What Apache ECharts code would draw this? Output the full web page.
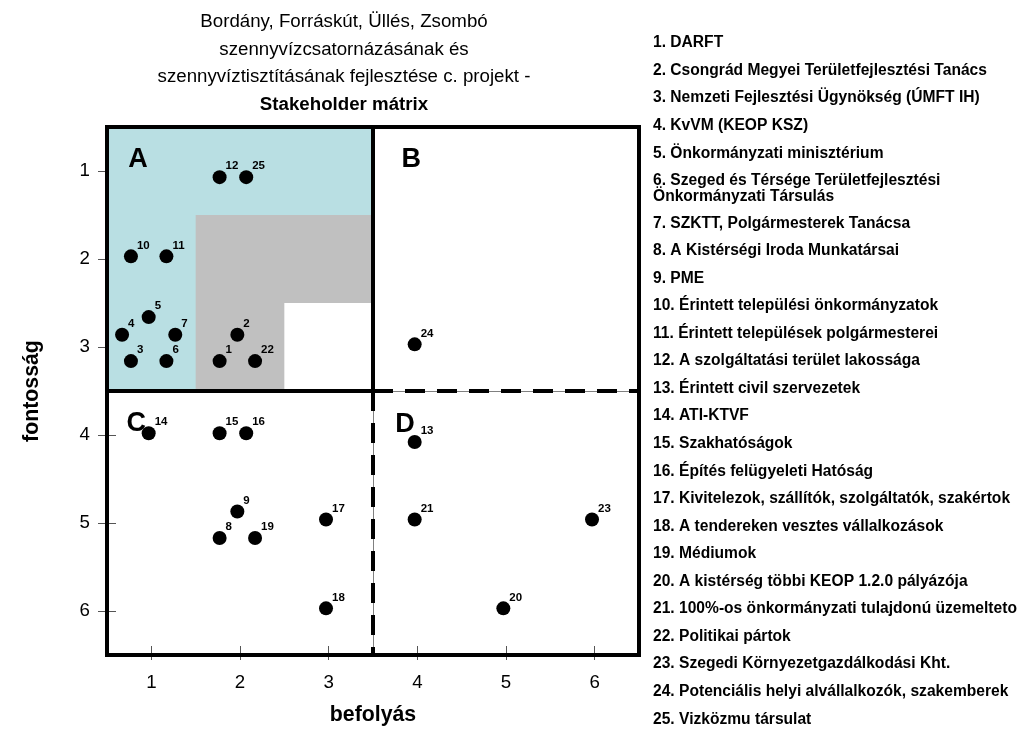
<!DOCTYPE html>
<html><head><meta charset="utf-8">
<script src="https://cdn.jsdelivr.net/npm/echarts@6/dist/echarts.min.js"></script>
<style>html,body{margin:0;padding:0;background:#fff}#c{width:1024px;height:735px}</style>
</head><body><div id="c"></div>
<script>
// ---- data ----
const stakeholderIds = ['1','2','3','4','5','6','7','8','9','10','11','12','13','14','15','16','17','18','19','20','21','22','23','24','25'];
const befolyas  = [1.77, 1.97, 0.77, 0.67, 0.97, 1.17, 1.27, 1.77, 1.97, 0.77, 1.17, 1.77, 3.97, 0.97, 1.77, 2.07, 2.97, 2.97, 2.17, 4.97, 3.97, 2.17, 5.97, 3.97, 2.07];
const fontossag = [3.16, 2.86, 3.16, 2.86, 2.66, 3.16, 2.86, 5.17, 4.87, 1.97, 1.97, 1.07, 4.08, 3.98, 3.98, 3.98, 4.96, 5.97, 5.17, 5.97, 4.96, 3.16, 4.96, 2.97, 1.07];
const stakeholderNames = [
  '1. DARFT',
  '2. Csongrád Megyei Területfejlesztési Tanács',
  '3. Nemzeti Fejlesztési Ügynökség (ÚMFT IH)',
  '4. KvVM (KEOP KSZ)',
  '5. Önkormányzati minisztérium',
  '6. Szeged és Térsége Területfejlesztési\nÖnkormányzati Társulás',
  '7. SZKTT, Polgármesterek Tanácsa',
  '8. A Kistérségi Iroda Munkatársai',
  '9. PME',
  '10. Érintett települési önkormányzatok',
  '11. Érintett települések polgármesterei',
  '12. A szolgáltatási terület lakossága',
  '13. Érintett civil szervezetek',
  '14. ATI-KTVF',
  '15. Szakhatóságok',
  '16. Építés felügyeleti Hatóság',
  '17. Kivitelezok, szállítók, szolgáltatók, szakértok',
  '18. A tendereken vesztes vállalkozások',
  '19. Médiumok',
  '20. A kistérség többi KEOP 1.2.0 pályázója',
  '21. 100%-os önkormányzati tulajdonú üzemelteto',
  '22. Politikai pártok',
  '23. Szegedi Környezetgazdálkodási Kht.',
  '24. Potenciális helyi alvállalkozók, szakemberek',
  '25. Vizközmu társulat'
];
const titleLines = ['Bordány, Forráskút, Üllés, Zsombó', 'szennyvízcsatornázásának és', 'szennyvíztisztításának fejlesztése c. projekt -'];
const titleBold = 'Stakeholder mátrix';
const quadrantLetters = ['A', 'B', 'C', 'D'];
const quadrantLetterX = [0.85, 3.93, 0.83, 3.86];
const quadrantLetterY = [0.87, 0.87, 3.87, 3.88];
const tickValues = [1, 2, 3, 4, 5, 6];
const axisMin = 0.5, axisMax = 6.5, split = 3.5;
const xName = 'befolyás', yName = 'fontosság';

// ---- chart ----
const FF = '"Liberation Sans", Arial, sans-serif';
const chart = echarts.init(document.getElementById('c'), null, {renderer: 'canvas'});

const points = stakeholderIds.map((id, i) => ({value: [befolyas[i], fontossag[i]], name: id}));
const letters = quadrantLetters.map((l, i) => ({value: [quadrantLetterX[i], quadrantLetterY[i]], name: l}));

const solid = {color: '#000', width: 4, type: 'solid', cap: 'square'};
function seg(a, b, style) { return [{coord: a, lineStyle: style}, {coord: b}]; }

const frameLines = [
  seg([axisMin, axisMin], [axisMax, axisMin], solid),
  seg([axisMax, axisMin], [axisMax, axisMax], solid),
  seg([axisMax, axisMax], [axisMin, axisMax], solid),
  seg([axisMin, axisMax], [axisMin, axisMin], solid),
  seg([split, axisMin], [split, split], solid),
  seg([axisMin, split], [split, split], solid),
  seg([split, split], [split, axisMax], {color: '#808080', width: 1, type: 'solid'}),
  seg([split, split], [axisMax, split], {color: '#808080', width: 1, type: 'solid'}),
  seg([split, split], [split, axisMax], {color: '#000', width: 4, type: [20, 12]}),
  seg([split, split], [axisMax, split], {color: '#000', width: 4, type: [20, 12]})
];

const titleRich = titleLines.map(t => '{n|' + t + '}').join('\n') + '\n{b|' + titleBold + '}';

// legend list text
let y = 43;
const listEls = [];
stakeholderNames.forEach((n) => {
  listEls.push({type: 'text', left: 653, top: y - 8, silent: true, style: {text: n, font: 'bold 15.6px ' + FF, fill: '#000', lineHeight: 16}});
  y += 27.55 + (n.indexOf('\n') >= 0 ? 15 : 0);
});

function xAxisDef(withLabels, inside, len) {
  return {
    type: 'value', min: axisMin, max: axisMax, position: 'bottom', offset: 0,
    name: withLabels ? xName : '', nameLocation: 'middle', nameGap: 50,
    nameTextStyle: {fontFamily: FF, fontWeight: 'bold', fontSize: 21.3, color: '#000'},
    axisLine: {show: false},
    splitLine: {show: false},
    axisTick: {show: true, inside: inside, length: len, customValues: tickValues, lineStyle: {color: '#555', width: 1}},
    axisLabel: {show: withLabels, customValues: tickValues, margin: 18, fontFamily: FF, fontSize: 18.7, color: '#000'}
  };
}
function yAxisDef(withLabels, inside, len) {
  return {
    type: 'value', min: axisMin, max: axisMax, inverse: true, position: 'left', offset: 0,
    name: withLabels ? yName : '', nameLocation: 'middle', nameGap: 64,
    nameTextStyle: {fontFamily: FF, fontWeight: 'bold', fontSize: 21.3, color: '#000'},
    axisLine: {show: false},
    splitLine: {show: false},
    axisTick: {show: true, inside: inside, length: len, customValues: tickValues, lineStyle: {color: '#555', width: 1}},
    axisLabel: {show: withLabels, customValues: tickValues, margin: 17, fontFamily: FF, fontSize: 18.7, color: '#000'}
  };
}

chart.setOption({
  animation: false,
  backgroundColor: '#fff',
  title: {
    text: titleRich, left: 339, top: 3, textAlign: 'center',
    textStyle: {
      fontWeight: 'normal',
      rich: {
        n: {fontFamily: FF, fontSize: 18.7, fontWeight: 'normal', color: '#000', lineHeight: 27.7, align: 'center'},
        b: {fontFamily: FF, fontSize: 18.7, fontWeight: 'bold', color: '#000', lineHeight: 27.7, align: 'center'}
      }
    }
  },
  grid: {left: 107, right: 385, top: 127, bottom: 80, show: false},
  xAxis: [xAxisDef(true, true, 9), xAxisDef(false, false, 5)],
  yAxis: [yAxisDef(true, true, 9), yAxisDef(false, false, 9)],
  graphic: listEls,
  series: [
    {
      type: 'scatter', data: [], clip: false, silent: true,
      markArea: {
        silent: true,
        label: {show: false},
        data: [
          [{coord: [axisMin, axisMin], itemStyle: {color: '#B9DFE3', opacity: 1}}, {coord: [split, split]}],
          [{coord: [1.5, 1.5], itemStyle: {color: '#C0C0C0', opacity: 1}}, {coord: [split, split]}],
          [{coord: [2.5, 2.5], itemStyle: {color: '#FFFFFF', opacity: 1}}, {coord: [split, split]}]
        ]
      },
      markLine: {silent: true, symbol: ['none', 'none'], label: {show: false}, animation: false, data: frameLines}
    },
    {
      type: 'scatter', data: letters, symbolSize: 1, itemStyle: {color: '#fff', opacity: 0}, silent: true, z: 3,
      label: {show: true, position: 'inside', formatter: p => p.name, fontFamily: FF, fontWeight: 'bold', fontSize: 27, color: '#000', opacity: 1},
      emphasis: {disabled: true}
    },
    {
      type: 'scatter', data: points, symbol: 'circle', symbolSize: 14, itemStyle: {color: '#000', opacity: 1}, z: 4, silent: true,
      label: {show: true, position: [13, -4], align: 'left', verticalAlign: 'middle', formatter: p => p.name, fontFamily: FF, fontWeight: 'bold', fontSize: 11.5, color: '#000', opacity: 1},
      emphasis: {disabled: true}
    }
  ]
});
</script>
</body></html>
